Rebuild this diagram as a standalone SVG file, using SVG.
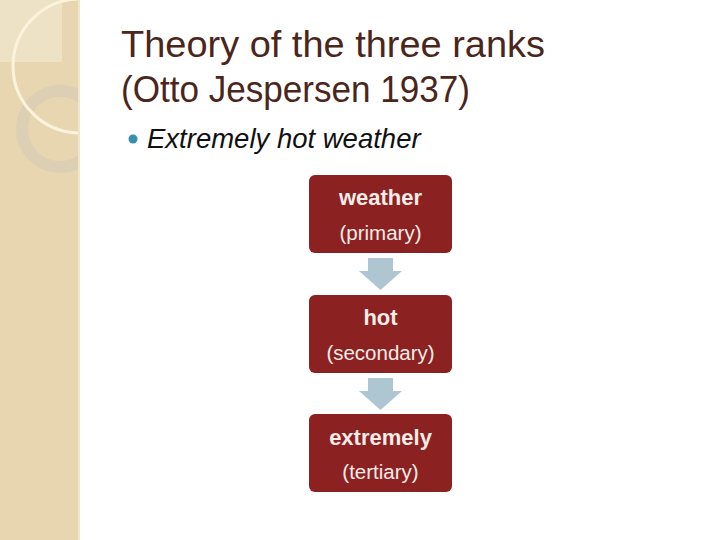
<svg xmlns="http://www.w3.org/2000/svg" width="720" height="540" viewBox="0 0 720 540">
<defs>
<style>
.title{font-family:"Liberation Sans","Noto Sans",sans-serif;font-size:37px;fill:#4A261B}
.bullet{font-family:"Liberation Sans","Noto Sans",sans-serif;font-size:27.5px;font-style:italic;fill:#111}
.box{fill:#8C2121}
.bt{font-family:"Liberation Sans","Noto Sans",sans-serif;font-size:22px;font-weight:bold;fill:#F7ECE8;text-anchor:middle}
.st{font-family:"Liberation Sans","Noto Sans",sans-serif;font-size:20.5px;fill:#F7ECE8;text-anchor:middle}
.arrow{fill:#ADC6D1}
</style>
<clipPath id="strip"><rect x="0" y="0" width="78" height="540"/></clipPath>
</defs>
<rect width="720" height="540" fill="#FFFFFF"/>
<g id="background-strip">
<rect x="0" y="0" width="78" height="540" fill="#E8D6B0"/>
<rect x="78" y="0" width="2" height="540" fill="#F1E5CB"/>
<g clip-path="url(#strip)">
<rect x="0" y="0" width="62" height="62" fill="#EDE1C6"/>
<circle cx="60" cy="129" r="38" fill="none" stroke="#DCCFB4" stroke-width="12"/>
<circle cx="80" cy="66" r="67" fill="none" stroke="#FBF3DC" stroke-width="3"/>
</g>
</g>
<g id="title">
<text class="title" x="121" y="57" textLength="424" lengthAdjust="spacingAndGlyphs">Theory of the three ranks</text>
<text class="title" x="121" y="102" textLength="349" lengthAdjust="spacingAndGlyphs">(Otto Jespersen 1937)</text>
</g>
<g id="bullet">
<circle cx="133" cy="139" r="4.5" fill="#3A8FAD"/>
<text class="bullet" x="147" y="148">Extremely hot weather</text>
</g>
<g id="connectors">
<path class="arrow" d="M368,258 H393 V271 H402 L380.5,290 L359,271 H368 Z"/>
<path class="arrow" d="M368,378 H393 V391 H402 L380.5,410 L359,391 H368 Z"/>
</g>
<g id="node-weather">
<rect class="box" x="309" y="175" width="143" height="78" rx="6"/>
<text class="bt" x="380.5" y="205">weather</text>
<text class="st" x="380.5" y="240">(primary)</text>
</g>
<g id="node-hot">
<rect class="box" x="309" y="295" width="143" height="78" rx="6"/>
<text class="bt" x="380.5" y="325">hot</text>
<text class="st" x="380.5" y="360">(secondary)</text>
</g>
<g id="node-extremely">
<rect class="box" x="309" y="414" width="143" height="78" rx="6"/>
<text class="bt" x="380.5" y="445">extremely</text>
<text class="st" x="380.5" y="479">(tertiary)</text>
</g>
</svg>
